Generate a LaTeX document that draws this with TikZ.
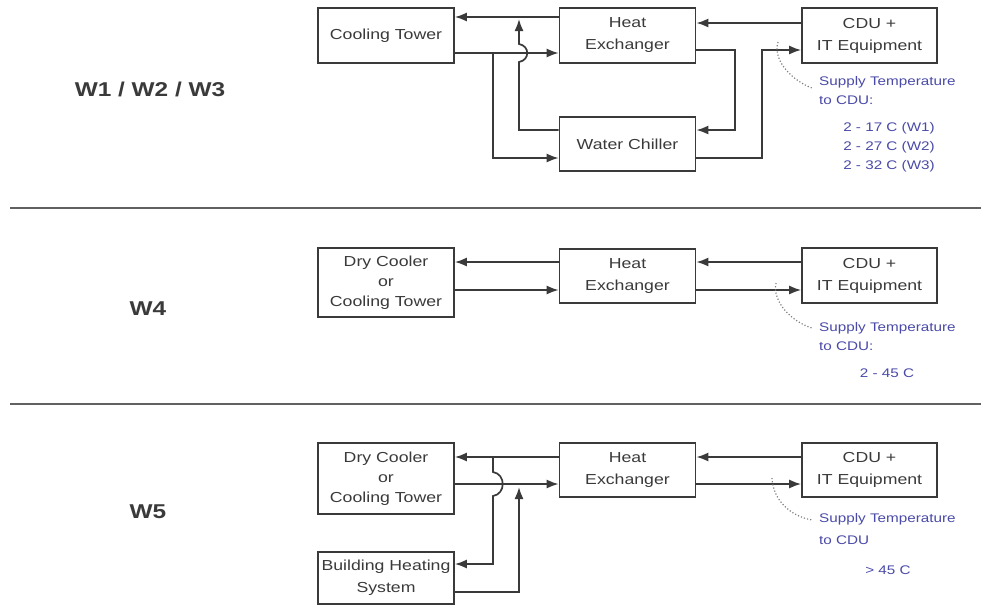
\documentclass[tikz,border=0pt]{standalone}
\usepackage{fontspec}
\setmainfont[FakeStretch=1.22]{Liberation Sans}
\usetikzlibrary{arrows.meta}
\definecolor{ink}{HTML}{3A3A3A}
\definecolor{note}{HTML}{4A4AA8}
\begin{document}
\begin{tikzpicture}[x=1pt,y=-1pt,
  box/.style={draw=ink, line width=1.7pt, minimum width=136pt, inner sep=0pt, align=center, text=ink, font=\fontsize{14.5}{22}\selectfont},
  pipe/.style={draw=ink, line width=1.7pt},
  arr/.style={pipe, -{Latex[length=12pt,width=9pt]}},
  lead/.style={draw=gray, line width=1.2pt, dotted},
  notes/.style={text=note, font=\fontsize{12.5}{18}\selectfont, inner sep=0pt, anchor=west},
  vals/.style={text=note, font=\fontsize{12.5}{18}\selectfont, inner sep=0pt, align=center},
  wlab/.style={font=\fontsize{20}{24}\selectfont\bfseries, text=ink},
  sep/.style={draw=ink!80, line width=2pt}
]
\useasboundingbox (0,0) rectangle (981,606);

% ---------- Section W1/W2/W3 ----------
\node[wlab] (w123) at (150,89) {W1 / W2 / W3};
\node[box, minimum height=55pt] (ct) at (386,35.5) {Cooling Tower};
\node[box, minimum height=55pt] (hx1) at (627.5,35.5) {Heat\\Exchanger};
\node[box, minimum height=54pt] (wc) at (627.5,144) {Water Chiller};
\node[box, minimum height=55pt, minimum width=135pt] (cdu1) at (869.5,35.5) {CDU +\\IT Equipment};

\coordinate (a17) at (0,17);
\coordinate (a23) at (0,23);
\coordinate (a50) at (0,50);
\coordinate (a53) at (0,53);
\coordinate (a130) at (0,130);
\coordinate (a158) at (0,158);
\coordinate (j1) at (493,53);

\draw[arr] (hx1.west |- a17) -- (ct.east |- a17);
\draw[arr] (ct.east |- a53) -- (hx1.west |- a53);
\draw[arr] (j1) -- (493,158) -- (wc.west |- a158);
\draw[arr] (wc.west |- a130) -- (519,130) -- (519,62) .. controls (530,60) and (530,46) .. (519,44) -- (519,19);
\draw[arr] (cdu1.west |- a23) -- (hx1.east |- a23);
\draw[arr] (hx1.east |- a50) -- (735,50) -- (735,130) -- (wc.east |- a130);
\draw[arr] (wc.east |- a158) -- (762,158) -- (762,50) -- (cdu1.west |- a50);

\draw[lead] (778,42) .. controls (772,62) and (795,82) .. (812,88);
\node[notes] (n1a) at (819,82) {Supply Temperature};
\node[notes] (n1b) at (819,100) {to CDU:};
\node[vals] (n1c) at (889,128) {2 - 17 C (W1)};
\node[vals] (n1d) at (889,147) {2 - 27 C (W2)};
\node[vals] (n1e) at (889,166) {2 - 32 C (W3)};

\draw[sep] (10,208) -- (981,208);

% ---------- Section W4 ----------
\node[wlab] (w4) at (148,309) {W4};
\node[box, minimum height=69pt] (dc2) at (386,282.5) {Dry Cooler\\[-2pt]or\\[-2pt]Cooling Tower};
\node[box, minimum height=54pt] (hx2) at (627.5,276) {Heat\\Exchanger};
\node[box, minimum height=55pt, minimum width=135pt] (cdu2) at (869.5,275.5) {CDU +\\IT Equipment};

\coordinate (b262) at (0,262);
\coordinate (b290) at (0,290);
\draw[arr] (hx2.west |- b262) -- (dc2.east |- b262);
\draw[arr] (dc2.east |- b290) -- (hx2.west |- b290);
\draw[arr] (cdu2.west |- b262) -- (hx2.east |- b262);
\draw[arr] (hx2.east |- b290) -- (cdu2.west |- b290);

\draw[lead] (776,283) .. controls (772,302) and (792,322) .. (812,328);
\node[notes] (n2a) at (819,328) {Supply Temperature};
\node[notes] (n2b) at (819,346) {to CDU:};
\node[vals] (n2c) at (887,373) {2 - 45 C};

\draw[sep] (10,404) -- (981,404);

% ---------- Section W5 ----------
\node[wlab] (w5) at (148,512) {W5};
\node[box, minimum height=71pt] (dc3) at (386,478.5) {Dry Cooler\\[-2pt]or\\[-2pt]Cooling Tower};
\node[box, minimum height=54pt] (hx3) at (627.5,470) {Heat\\Exchanger};
\node[box, minimum height=54pt, minimum width=135pt] (cdu3) at (869.5,470) {CDU +\\IT Equipment};
\node[box, minimum height=52pt] (bhs) at (386,578) {Building Heating\\System};

\coordinate (c457) at (0,457);
\coordinate (c484) at (0,484);
\coordinate (c564) at (0,564);
\coordinate (c592) at (0,592);
\coordinate (j3) at (493,457);

\draw[arr] (hx3.west |- c457) -- (dc3.east |- c457);
\draw[arr] (dc3.east |- c484) -- (hx3.west |- c484);
\draw[arr] (j3) -- (493,472) .. controls (506,474) and (506,494) .. (493,496) -- (493,564) -- (bhs.east |- c564);
\draw[arr] (bhs.east |- c592) -- (519,592) -- (519,487);
\draw[arr] (cdu3.west |- c457) -- (hx3.east |- c457);
\draw[arr] (hx3.east |- c484) -- (cdu3.west |- c484);

\draw[lead] (772,478) .. controls (773,500) and (790,516) .. (812,520);
\node[notes] (n3a) at (819,519) {Supply Temperature};
\node[notes] (n3b) at (819,540) {to CDU};
\node[vals] (n3c) at (888,570) {> 45 C};
\end{tikzpicture}
\end{document}
